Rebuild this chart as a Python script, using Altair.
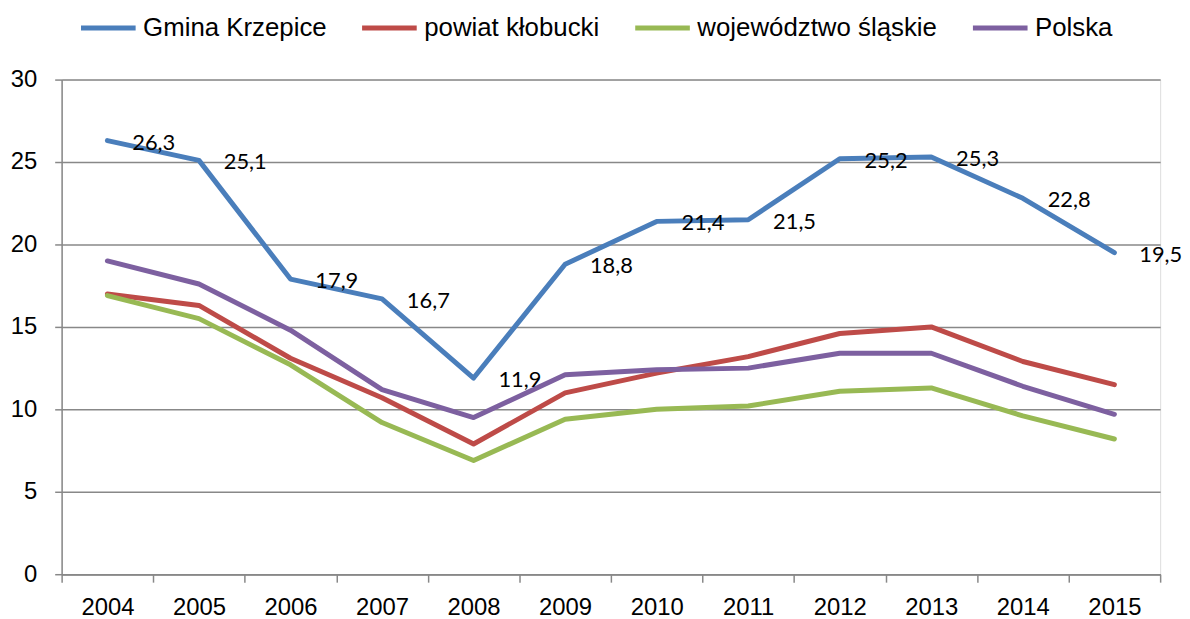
import altair as alt
import pandas as pd

years = [2004, 2005, 2006, 2007, 2008, 2009, 2010, 2011, 2012, 2013, 2014, 2015]
series_names = ["Gmina Krzepice", "powiat kłobucki", "województwo śląskie", "Polska"]
colors = ["#4A7EBB", "#BE4B48", "#98B954", "#7D60A0"]

gmina = [26.3, 25.1, 17.9, 16.7, 11.9, 18.8, 21.4, 21.5, 25.2, 25.3, 22.8, 19.5]
powiat = [17.0, 16.3, 13.1, 10.7, 7.9, 11.0, 12.2, 13.2, 14.6, 15.0, 12.9, 11.5]
wojewodztwo = [16.9, 15.5, 12.7, 9.2, 6.9, 9.4, 10.0, 10.2, 11.1, 11.3, 9.6, 8.2]
polska = [19.0, 17.6, 14.8, 11.2, 9.5, 12.1, 12.4, 12.5, 13.4, 13.4, 11.4, 9.7]

y_ticks = [0, 5, 10, 15, 20, 25, 30]
x_bounds = [2003.5 + i for i in range(13)]

rows = []
for name, vals in zip(series_names, [gmina, powiat, wojewodztwo, polska]):
    for yr, v in zip(years, vals):
        rows.append({"rok": yr, "wartosc": v, "seria": name,
                     "etykieta": f"{v:.1f}".replace(".", ",")})
df = pd.DataFrame(rows)

grid_col = "#888888"

x_scale = alt.Scale(domain=[2003.5, 2015.5], nice=False, zero=False)
y_scale = alt.Scale(domain=[0, 30], nice=False)

y_axis = alt.Axis(values=y_ticks, title=None, tickSize=7, tickColor=grid_col, tickWidth=1.5,
                  labelPadding=18, labelFont="Liberation Sans", labelFontSize=24, labelColor="#000",
                  gridColor=grid_col, gridWidth=1.5, domainColor=grid_col, domainWidth=1.5)

lines = alt.Chart(df).mark_line(strokeWidth=5, strokeCap="round", strokeJoin="round").encode(
    x=alt.X("rok:Q", scale=x_scale,
            axis=alt.Axis(orient="bottom", values=years, format="d", title=None, ticks=False,
                          grid=False, labelPadding=22, labelFont="Liberation Sans",
                          labelFontSize=24, labelColor="#000", labelFlush=False,
                          labelOverlap=False, domainColor=grid_col, domainWidth=1.5)),
    y=alt.Y("wartosc:Q", scale=y_scale, axis=y_axis),
    color=alt.Color("seria:N",
                    scale=alt.Scale(domain=series_names, range=colors),
                    legend=alt.Legend(orient="none", legendX=17, legendY=-82,
                                      direction="horizontal", title=None,
                                      symbolType="stroke", symbolSize=3025, symbolStrokeWidth=5,
                                      labelFont="Liberation Sans", labelFontSize=26,
                                      labelColor="#000", labelOffset=5, columnPadding=25,
                                      labelLimit=500)),
    order=alt.Order("rok:Q"),
)

labels = alt.Chart(df).transform_filter(alt.datum.seria == "Gmina Krzepice").mark_text(
    align="left", baseline="middle", dx=25, dy=2, font="Lato", fontSize=22, color="#000"
).encode(
    x=alt.X("rok:Q", scale=x_scale,
            axis=alt.Axis(orient="bottom", values=x_bounds, title=None, labels=False, grid=False,
                          tickSize=8, tickColor=grid_col, tickWidth=1.5,
                          domainColor=grid_col, domainWidth=1.5)),
    y=alt.Y("wartosc:Q", scale=y_scale, axis=y_axis),
    text="etykieta:N",
)

chart = alt.layer(lines, labels).resolve_axis(x="independent").properties(
    width=1106, height=498,
    autosize=alt.AutoSizeParams(type="none"),
    padding={"left": 54, "top": 70, "right": 22, "bottom": 40},
).configure_view(stroke=None).configure(background="white")

chart.save("out.html", embed_options={"renderer": "svg", "actions": False})
